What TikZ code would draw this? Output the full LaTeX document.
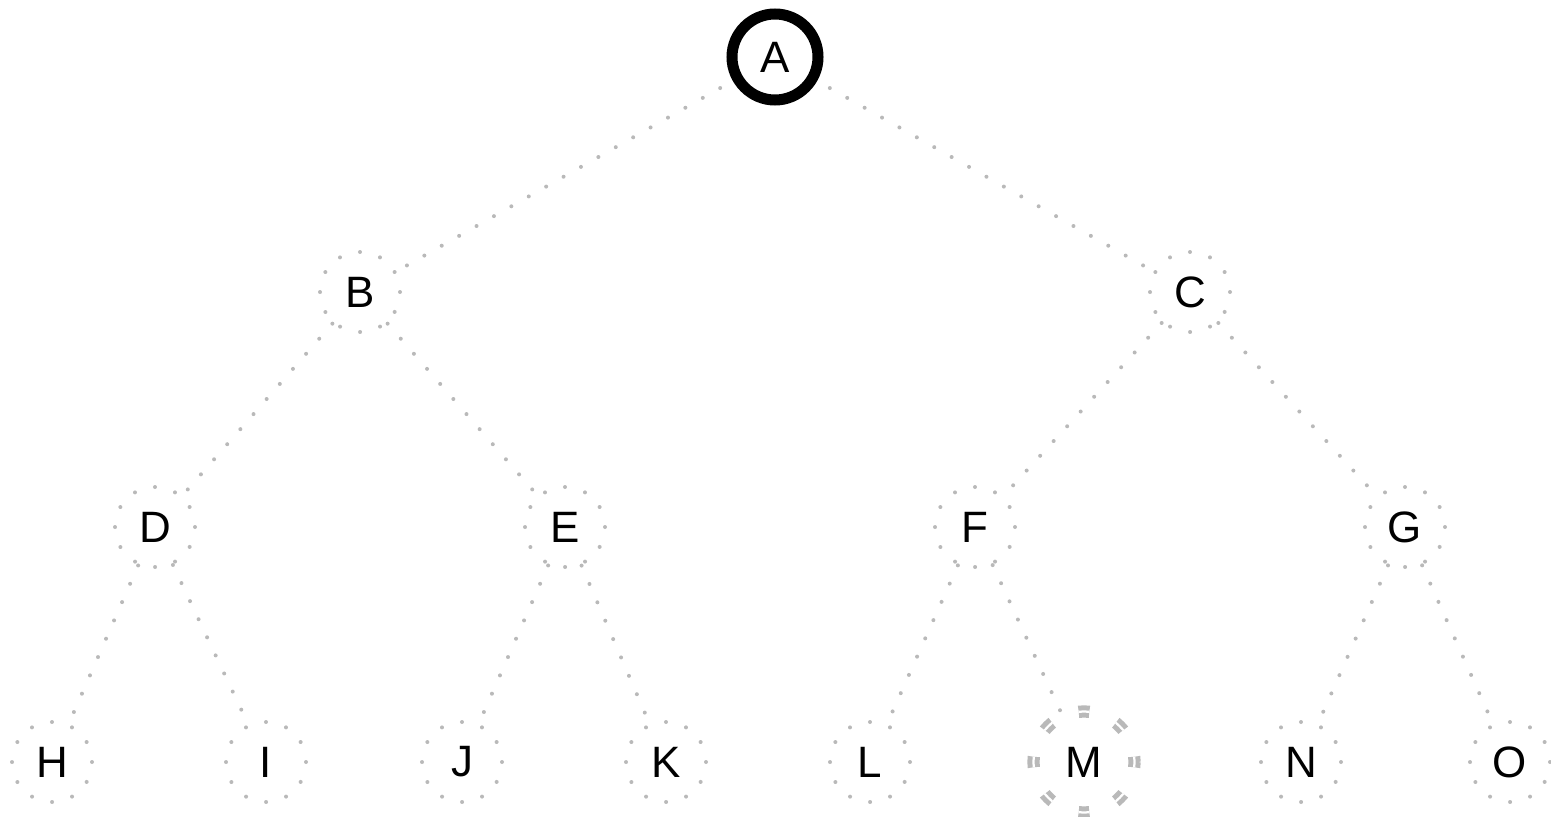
\documentclass[tikz,border=0pt]{standalone}
\usepackage{fontspec}
\setmainfont{Liberation Sans}
\definecolor{dotgray}{RGB}{185,185,185}

\begin{document}
\begin{tikzpicture}[
        every node/.style={font=\fontsize{25}{30}\selectfont},
        dotnode/.style={circle,draw=dotgray,line width=0.08cm,line cap=round,dash pattern=on 0pt off 0.4189cm,minimum size=1.6cm,inner sep=0pt},
        rootnode/.style={circle,draw=black,line width=0.22cm,minimum size=1.72cm,inner sep=0pt,outer sep=0.4cm},
        dashnode/.style={circle,draw=dotgray,line width=0.1cm,double=white,double distance=0.045cm,dash pattern=on 0.21cm off 0.583cm,dash phase=0.105cm,minimum size=2.02cm,inner sep=0pt},
        edge/.style={draw=dotgray,line width=0.08cm,line cap=round,dash pattern=on 0pt off 0.4cm}
    ]
            \useasboundingbox (0,0) rectangle (31.02,-16.34);

            \node[rootnode] (A) at (15.5,-1.14) {A};
            \node[dotnode] (B) at (7.2,-5.84) {B};
            \node[dotnode] (C) at (23.8,-5.84) {C};
            \node[dotnode] (D) at (3.1,-10.54) {D};
            \node[dotnode] (E) at (11.3,-10.54) {E};
            \node[dotnode] (F) at (19.5,-10.54) {F};
            \node[dotnode] (G) at (28.1,-10.54) {G};
            \foreach \n/\x in {H/1.04,I/5.32,J/9.24,K/13.32,L/17.4,N/26.02,O/30.2}{
                \node[dotnode] (\n) at (\x,-15.24) {\n};
            }
            \node[dashnode] (M) at (21.68,-15.24) {M};

            \foreach \p/\c in {A/B,A/C,B/D,B/E,C/F,C/G,D/H,D/I,E/J,E/K,F/L,F/M,G/N,G/O}{
                \draw[edge] (\p) -- (\c);
            }
        \end{tikzpicture}
\end{document}
